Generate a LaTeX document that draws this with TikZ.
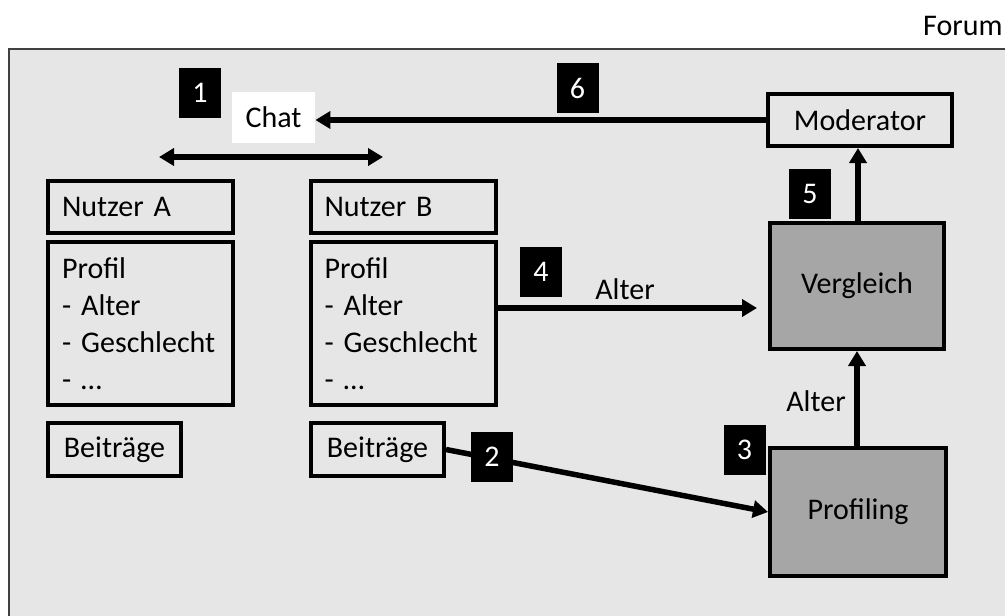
\documentclass[tikz,border=0pt]{standalone}
\usepackage{fontspec}
\setmainfont{Carlito}
\usepackage{tikz}
\usetikzlibrary{arrows.meta}

\definecolor{forumgrey}{HTML}{E6E6E6}
\definecolor{boxgrey}{HTML}{A6A6A6}

\begin{document}
\begin{tikzpicture}[x=0.5pt, y=-0.5pt,
  every node/.style={font=\fontsize{15}{18.5}\selectfont, inner sep=0pt},
  box/.style={draw=black, line width=2pt, fill=forumgrey},
  userbox/.style={box, inner xsep=7pt, text width=78.5pt, align=left},
  greybox/.style={draw=black, line width=2pt, fill=boxgrey, minimum width=87pt, minimum height=63pt},
  num/.style={fill=black, text=white, minimum width=21pt, minimum height=25pt},
  arr/.style={line width=2.75pt, -{Triangle[length=7.5pt, width=8.5pt]}}]

\useasboundingbox (0,0) rectangle (1005,615);

% Forum frame
\fill[forumgrey, draw=black!75, line width=1pt] (9,49) rectangle (1020,630);
\node[anchor=east] (forum) at (1003,26) {Forum};

% users
\node[userbox, minimum height=26pt] (nutzerA) at (140.5,207) {Nutzer A};
\node[userbox, minimum height=26pt] (nutzerB) at (403,207) {Nutzer B};

\node[userbox, minimum height=81.5pt] (profilA) at (140.5,323.5) {Profil\\- Alter\\- Geschlecht\\- \dots};
\node[userbox, minimum height=81.5pt] (profilB) at (403,323.5) {Profil\\- Alter\\- Geschlecht\\- \dots};

\node[box, minimum width=66.5pt, minimum height=26.5pt] (beitrA) at (114.5,449.5) {Beitr\"age};
\node[box, minimum width=66.5pt, minimum height=26.5pt] (beitrB) at (377.5,449.5) {Beitr\"age};

% chat
\node[fill=white, minimum width=41.5pt, minimum height=25.5pt] (chat) at (273.5,117.5) {Chat};
\coordinate (chatL) at (159,157);
\coordinate (chatR) at (383,157);
\draw[arr, {Triangle[length=7.5pt, width=8.5pt]}-{Triangle[length=7.5pt, width=8.5pt]}] (chatL) -- (chatR);

% moderation
\node[box, minimum width=92pt, minimum height=26pt] (moderator) at (860,120) {Moderator};
\node[greybox] (vergleich) at (857,286) {Vergleich};
\node[greybox, minimum width=88pt, minimum height=64pt] (profiling) at (858,512) {Profiling};

\draw[arr] (beitrB.east) -- (profiling.west);
\draw[arr] (profiling.north -| 857,0) -- (vergleich.south -| 857,0);
\draw[arr] (vergleich.north -| 858,0) -- (moderator.south -| 858,0);
\draw[arr] (moderator.west) -- (moderator.west -| chat.east);

\coordinate (alterB) at (profilB.east |- 0,308);
\draw[arr, shorten >=5.5pt] (alterB) -- (alterB -| vergleich.west);

\node (alter1) at (625,289) {Alter};
\node (alter2) at (816,401) {Alter};

% steps
\node[num] (n1) at (200,93) {1};
\node[num] (n2) at (492,457) {2};
\node[num] (n3) at (744.5,449.5) {3};
\node[num] (n4) at (541,272) {4};
\node[num] (n5) at (810,194) {5};
\node[num] (n6) at (577.5,88) {6};

\end{tikzpicture}
\end{document}
